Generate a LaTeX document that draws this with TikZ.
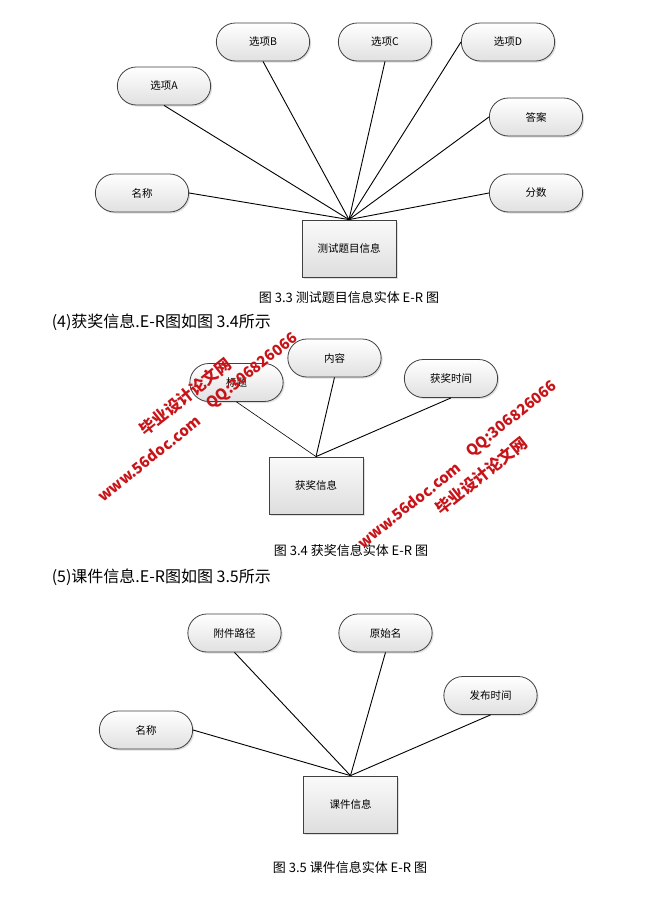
\documentclass[tikz,border=0pt]{standalone}
\usepackage{fontspec}
\newfontfamily\cjk{Noto Sans CJK SC}
\usetikzlibrary{shapes.misc,shadows}
\definecolor{wmred}{RGB}{200,20,25}
\definecolor{edge}{RGB}{64,64,64}

\begin{document}
\begin{tikzpicture}[
  x=1pt, y=-1pt,
  attr/.style={rounded rectangle, draw=edge, line width=0.8pt, minimum width=100pt, minimum height=38pt,
    top color=white, bottom color=black!12,
    drop shadow={shadow xshift=1.5pt, shadow yshift=-1.5pt, opacity=0.25},
    font=\cjk\fontsize{10.5}{12}\selectfont},
  entity/.style={rectangle, draw=edge, line width=0.8pt, minimum width=94pt, minimum height=57pt,
    top color=black!2, bottom color=black!13,
    drop shadow={shadow xshift=1.5pt, shadow yshift=-1.5pt, opacity=0.25},
    font=\cjk\fontsize{10.5}{12}\selectfont},
  caption/.style={font=\cjk\fontsize{13}{15}\selectfont},
  heading/.style={anchor=west, font=\cjk\fontsize{16}{18}\selectfont},
  wmark/.style={text=wmred, rotate=38.6, inner sep=0pt, font=\cjk\bfseries\fontsize{15}{17}\selectfont},
  line width=0.9pt
]
\path[use as bounding box, fill=white] (0,0) rectangle (672,900);

% 图 3.3
\node[entity] (quiz) at (349,248.5) {测试题目信息};
\node[attr] (optA) at (164,86) {选项A};
\node[attr] (optB) at (263,42) {选项B};
\node[attr] (optC) at (385,42) {选项C};
\node[attr] (optD) at (508,42) {选项D};
\node[attr] (answer) at (536,117) {答案};
\node[attr] (qname) at (142,193) {名称};
\node[attr] (score) at (536,193) {分数};
\node[caption] (cap33) at (349,298) {图 3.3 测试题目信息实体 E-R 图};

\draw (optA.south) -- (quiz.north);
\draw (optB.south) -- (quiz.north);
\draw (optC.south) -- (quiz.north);
\draw (optD.west) -- (quiz.north);
\draw (answer.west) -- (quiz.north);
\draw (qname.east) -- (quiz.north);
\draw (score.west) -- (quiz.north);

% 图 3.4
\node[heading] (h34) at (48,322) {(4)获奖信息.E-R图如图 3.4所示};
\node[entity] (award) at (316,485.5) {获奖信息};
\node[attr] (title) at (236.5,382.5) {标题};
\node[attr] (content) at (334.5,358) {内容};
\node[attr] (atime) at (451,378.5) {获奖时间};
\node[caption] (cap34) at (351,551) {图 3.4 获奖信息实体 E-R 图};

\draw[line width=0.6pt] (title.south) -- (award.north);
\draw (content.south) -- (award.north);
\draw (atime.south) -- (award.north);

% 图 3.5
\node[heading] (h35) at (48,577) {(5)课件信息.E-R图如图 3.5所示};
\node[entity] (course) at (350.5,804.5) {课件信息};
\node[attr] (path) at (234.5,633) {附件路径};
\node[attr] (orig) at (385.5,633) {原始名};
\node[attr] (ptime) at (490.5,695.5) {发布时间};
\node[attr] (cname) at (146,730) {名称};
\node[caption] (cap35) at (350,868) {图 3.5 课件信息实体 E-R 图};

\draw (cname.east) -- (course.north);
\draw (path.south) -- (course.north);
\draw (orig.south) -- (course.north);
\draw (ptime.south) -- (course.north);

% watermarks
\node[wmark, font=\cjk\bfseries\fontsize{16}{18}\selectfont] (wm1a) at (185,397) {毕业设计论文网};
\node[wmark] (wm1b) at (149,458.5) {www.56doc.com};
\node[wmark] (wm1c) at (252.5,371.5) {QQ:306826066};
\node[wmark, font=\cjk\bfseries\fontsize{16}{18}\selectfont] (wm2a) at (481,476) {毕业设计论文网};
\node[wmark] (wm2b) at (409,505) {www.56doc.com};
\node[wmark] (wm2c) at (512,419.5) {QQ:306826066};
\end{tikzpicture}
\end{document}
